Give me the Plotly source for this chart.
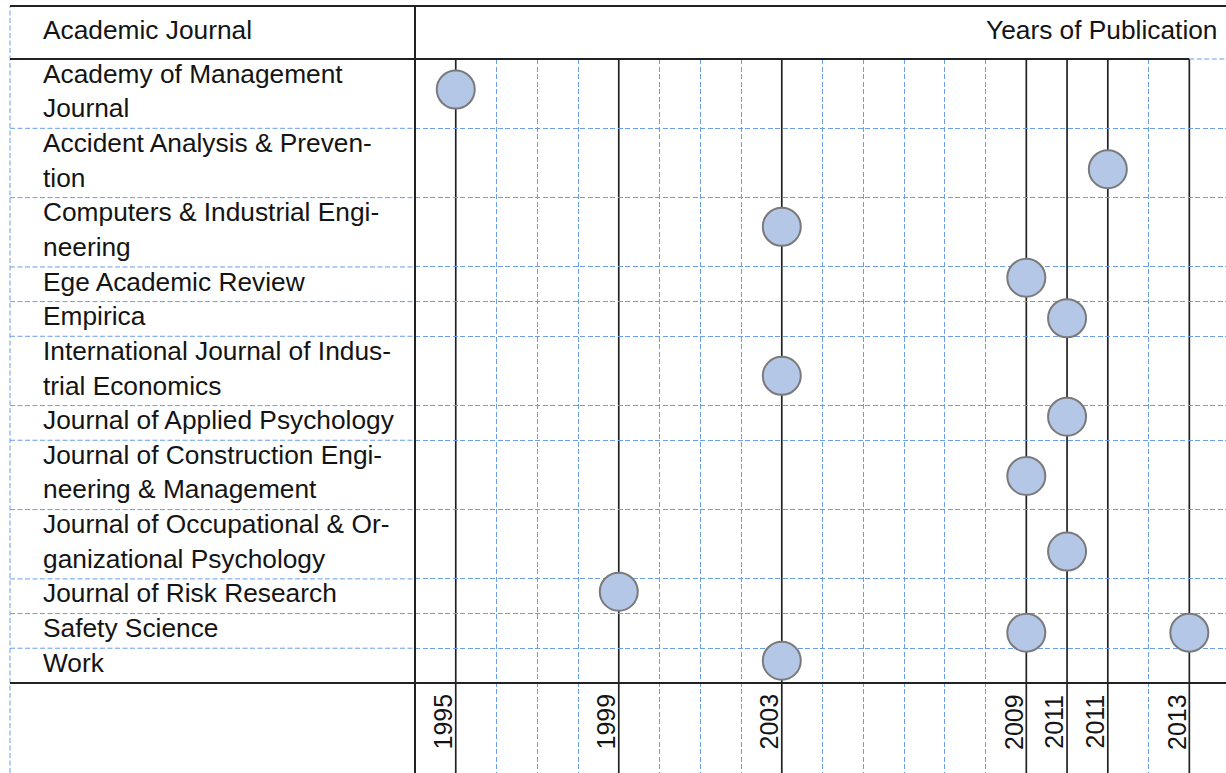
import plotly.graph_objects as go

# ---------------- data ----------------
journals = [
    "Academy of Management<br>Journal",
    "Accident Analysis & Preven-<br>tion",
    "Computers & Industrial Engi-<br>neering",
    "Ege Academic Review",
    "Empirica",
    "International Journal of Indus-<br>trial Economics",
    "Journal of Applied Psychology",
    "Journal of Construction Engi-<br>neering & Management",
    "Journal of Occupational & Or-<br>ganizational Psychology",
    "Journal of Risk Research",
    "Safety Science",
    "Work",
]

# publications: journal index, year, vertical position (in text-line units from top)
pub_journal_idx = [0, 1, 2, 3, 4, 5, 6, 7, 8, 9, 10, 10, 11]
pub_year = [1995, 2011, 2003, 2009, 2010, 2003, 2010, 2009, 2010, 1999, 2009, 2013, 2003]
pub_pos = [0.88, 3.18, 4.84, 6.31, 7.48, 9.14, 10.32, 12.03, 14.21, 15.37, 16.55, 16.55, 17.36]

tick_years = [1995, 1999, 2003, 2009, 2010, 2011, 2013]
tick_text = ["1995", "1999", "2003", "2009", "2011", "2011", "2013"]

header_left = "Academic Journal"
header_right = "Years of Publication"

# ---------------- layout constants ----------------
W, H = 1226, 773
L, T = 415, 59           # plot area left / top (px)
X_RANGE = [1994, 2013.9]
Y_RANGE = [20.6, 0]
FONT = "Liberation Sans, Arial, sans-serif"
FS = 26.3
TXT = "#141414"
GRID = "#6b9deb"
DASH = "5px,2.5px"
LINE = "#222222"


def px_x(px):
    return (px - L) / (W - L)


def px_y(py):
    return (H - py) / (H - T)


# row boundaries from number of text lines in each row
n_lines = [j.count("<br>") + 1 for j in journals]
bounds = [0]
for n in n_lines:
    bounds.append(bounds[-1] + n)
last = bounds[-1]

solid_years = sorted(set(pub_year))
grid_years = [y for y in range(1995, 2015) if y not in solid_years]

fig = go.Figure()

# markers
fig.add_trace(go.Scatter(
    x=pub_year,
    y=pub_pos,
    mode="markers",
    marker=dict(size=38, color="#b4c7e7", line=dict(color="#7a7a7a", width=2)),
    hoverinfo="skip",
    showlegend=False,
    cliponaxis=False,
))

shapes = []
# solid vertical lines for years with publications
for yr in solid_years:
    shapes.append(dict(type="line", xref="x", yref="paper", x0=yr, x1=yr, y0=0, y1=1,
                       line=dict(color=LINE, width=1.7), layer="between"))

# left column dashed row separators
for b in bounds[1:-1]:
    shapes.append(dict(type="line", xref="paper", yref="y", x0=px_x(10), x1=0, y0=b, y1=b,
                       line=dict(color=GRID, width=1, dash=DASH), layer="below"))

# left dashed border
shapes.append(dict(type="line", xref="paper", yref="paper", x0=px_x(10), x1=px_x(10),
                   y0=0, y1=px_y(6), line=dict(color=GRID, width=1, dash=DASH)))
# top solid line
shapes.append(dict(type="line", xref="paper", yref="paper", x0=px_x(10), x1=1,
                   y0=px_y(6), y1=px_y(6), line=dict(color=LINE, width=2)))
# header separator
xr_last = (max(pub_year) - X_RANGE[0]) / (X_RANGE[1] - X_RANGE[0])
shapes.append(dict(type="line", xref="paper", yref="paper", x0=px_x(10), x1=xr_last,
                   y0=1, y1=1, line=dict(color=LINE, width=2)))
shapes.append(dict(type="line", xref="paper", yref="paper", x0=xr_last, x1=1,
                   y0=1, y1=1, line=dict(color=GRID, width=1, dash=DASH)))
# bottom solid line of table body
shapes.append(dict(type="line", xref="paper", yref="y", x0=px_x(10), x1=1,
                   y0=last, y1=last, line=dict(color=LINE, width=2)))
# column separator
shapes.append(dict(type="line", xref="paper", yref="paper", x0=0, x1=0,
                   y0=0, y1=px_y(6), line=dict(color=LINE, width=2)))

annotations = []
# journal names, one annotation per text line
for j, name in enumerate(journals):
    for k, part in enumerate(name.split("<br>")):
        annotations.append(dict(
            text=part, xref="paper", yref="y", x=px_x(42), y=bounds[j] + k + 0.42,
            xanchor="left", yanchor="middle", showarrow=False, borderpad=0,
            font=dict(family=FONT, size=FS, color=TXT)))

# headers
annotations.append(dict(text=header_left, xref="paper", yref="paper", x=px_x(42), y=px_y(30),
                        xanchor="left", yanchor="middle", showarrow=False, borderpad=0,
                        font=dict(family=FONT, size=FS, color=TXT)))
annotations.append(dict(text=header_right, xref="paper", yref="paper", x=px_x(1218), y=px_y(30),
                        xanchor="right", yanchor="middle", showarrow=False, borderpad=0,
                        font=dict(family=FONT, size=FS, color=TXT)))

# year labels (rotated)
for yr, lab in zip(tick_years, tick_text):
    annotations.append(dict(text=lab, xref="x", yref="y", x=yr, y=last + 1.12,
                            xanchor="center", yanchor="middle", xshift=-13, textangle=-90,
                            showarrow=False, borderpad=0,
                            font=dict(family=FONT, size=25, color=TXT)))

fig.update_layout(
    width=W, height=H,
    margin=dict(l=L, r=0, t=T, b=0, pad=0),
    paper_bgcolor="white", plot_bgcolor="white",
    showlegend=False,
    shapes=shapes,
    annotations=annotations,
    xaxis=dict(range=X_RANGE, tickmode="array", tickvals=grid_years,
               showticklabels=False, ticks="", showgrid=True, gridcolor=GRID, gridwidth=1,
               griddash=DASH, zeroline=False, showline=False, fixedrange=True),
    yaxis=dict(range=Y_RANGE, tickmode="array", tickvals=bounds[1:-1],
               showticklabels=False, ticks="", showgrid=True, gridcolor=GRID, gridwidth=1,
               griddash=DASH, zeroline=False, showline=False, fixedrange=True),
)

fig.write_html(
    "out.html",
    config={"displayModeBar": False},
    post_script="document.body.style.margin='0';document.body.style.overflow='hidden';",
)
